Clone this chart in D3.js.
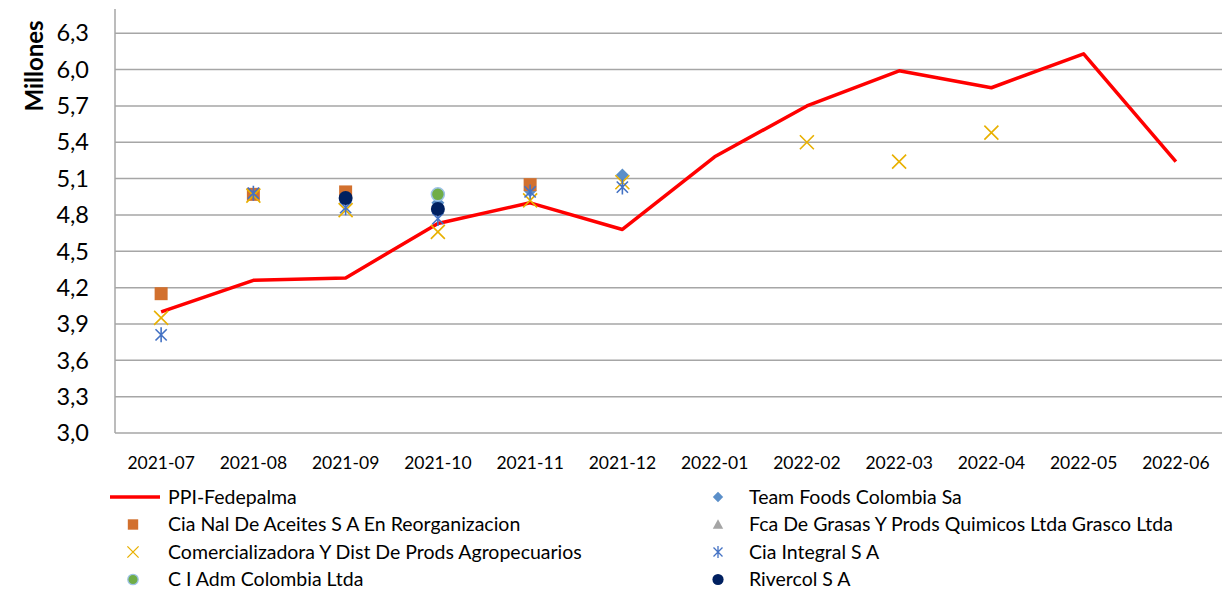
<!DOCTYPE html>
<html lang="es">
<head>
  <meta charset="UTF-8">
  <title>PPI-Fedepalma vs compradores</title>
  <script src="https://d3js.org/d3.v7.min.js"></script>
  <style>
    body {
      margin: 0;
      background: white;
      font-family: Lato, "Open Sans", sans-serif;
    }
    svg {
      display: block;
    }
    .grid line {
      stroke: #a6a6a6;
      stroke-width: 1.5;
    }
    .ytick text {
      font-size: 23.5px;
      fill: #000;
    }
    .xtick text {
      font-size: 17.5px;
      fill: #000;
    }
    .legend text {
      font-size: 19.5px;
      fill: #000;
    }
  </style>
</head>
<body>
<svg width="1229" height="590"></svg>

<script>
  const months = ["2021-07", "2021-08", "2021-09", "2021-10", "2021-11", "2021-12",
                  "2022-01", "2022-02", "2022-03", "2022-04", "2022-05", "2022-06"];
  const yTicks = [3.0, 3.3, 3.6, 3.9, 4.2, 4.5, 4.8, 5.1, 5.4, 5.7, 6.0, 6.3];

  // millions of pesos, null where there is no quote
  const ppiFedepalma = [4.00, 4.26, 4.28, 4.73, 4.90, 4.68, 5.28, 5.70, 5.99, 5.85, 6.13, 5.24];
  const teamFoods = [null, null, null, 4.90, 5.00, 5.13, null, null, null, null, null, null];
  const ciaNal = [4.15, 4.97, 4.99, null, 5.05, null, null, null, null, null, null, null];
  const grasco = [null, null, null, null, null, null, null, null, null, null, null, null];
  const comercializadora = [3.95, 4.96, 4.84, 4.66, 4.92, 5.07, null, 5.40, 5.24, 5.48, null, null];
  const ciaIntegral = [3.81, 4.98, 4.86, 4.77, 4.99, 5.03, null, null, null, null, null, null];
  const ciAdm = [null, null, null, 4.97, null, null, null, null, null, null, null, null];
  const rivercol = [null, null, 4.94, 4.85, null, null, null, null, null, null, null, null];

  const svg = d3.select("svg");
  const margin = {left: 115, right: 7, top: 9, bottom: 157};
  const W = 1229, H = 590;

  const x = d3.scaleBand()
    .domain(months)
    .range([margin.left, W - margin.right]);

  const y = d3.scaleLinear()
    .domain([3.0, 6.5])
    .range([H - margin.bottom, margin.top]);

  // gridlines
  svg.append("g")
    .attr("class", "grid")
    .selectAll("line")
    .data(yTicks)
    .join("line")
    .attr("x1", margin.left)
    .attr("x2", W - margin.right)
    .attr("y1", d => y(d))
    .attr("y2", d => y(d));

  // y axis line
  svg.append("line")
    .attr("x1", margin.left).attr("x2", margin.left)
    .attr("y1", y(6.5)).attr("y2", y(3.0))
    .attr("stroke", "#a6a6a6")
    .attr("stroke-width", 1.5);

  // y tick labels
  svg.append("g")
    .attr("class", "ytick")
    .selectAll("text")
    .data(yTicks)
    .join("text")
    .attr("x", 89)
    .attr("y", d => y(d))
    .attr("dy", "0.35em")
    .attr("text-anchor", "end")
    .text(d => d.toFixed(1).replace(".", ","));

  svg.append("text")
    .attr("transform", "translate(43, 66) rotate(-90)")
    .attr("text-anchor", "middle")
    .style("font-size", "24px")
    .style("font-weight", "bold")
    .text("Millones");

  // x tick labels
  svg.append("g")
    .attr("class", "xtick")
    .selectAll("text")
    .data(months)
    .join("text")
    .attr("x", d => x(d) + x.bandwidth() / 2)
    .attr("y", 469)
    .attr("text-anchor", "middle")
    .text(d => d);

  // marker shapes
  const shapes = {
    square: s => `M${-s},${-s}h${2 * s}v${2 * s}h${-2 * s}Z`,
    diamond: s => `M0,${-s}L${s},0L0,${s}L${-s},0Z`,
    triangle: s => `M0,${-s}L${s},${s * 0.8}L${-s},${s * 0.8}Z`,
    cross: s => `M${-s},${-s}L${s},${s}M${s},${-s}L${-s},${s}`,
    star: s => `M0,${-s}V${s}M${-s * 0.75},${-s * 0.75}L${s * 0.75},${s * 0.75}M${s * 0.75},${-s * 0.75}L${-s * 0.75},${s * 0.75}`,
    circle: s => `M${s},0A${s},${s} 0 1,1 ${-s},0A${s},${s} 0 1,1 ${s},0Z`
  };

  const seriesList = [
    {name: "Team Foods Colombia Sa", values: teamFoods, shape: "diamond", size: 6.5, fill: "#5b8fc9", stroke: "none"},
    {name: "Cia Nal De Aceites S A En Reorganizacion", values: ciaNal, shape: "square", size: 6.5, fill: "#d2702e", stroke: "none"},
    {name: "Fca De Grasas Y Prods Quimicos Ltda Grasco Ltda", values: grasco, shape: "triangle", size: 6.5, fill: "#a5a5a5", stroke: "none"},
    {name: "Comercializadora Y Dist De Prods Agropecuarios", values: comercializadora, shape: "cross", size: 7, fill: "none", stroke: "#e8b000"},
    {name: "Cia Integral S A", values: ciaIntegral, shape: "star", size: 7.5, fill: "none", stroke: "#4472c4"},
    {name: "C I Adm Colombia Ltda", values: ciAdm, shape: "circle", size: 6.5, fill: "#70ad47", stroke: "#9dc3e6"},
    {name: "Rivercol S A", values: rivercol, shape: "circle", size: 7, fill: "#002060", stroke: "none"}
  ];

  // PPI line
  const line = d3.line()
    .x((d, i) => x(months[i]) + x.bandwidth() / 2)
    .y(d => y(d));

  svg.append("path")
    .datum(ppiFedepalma)
    .attr("d", line)
    .attr("fill", "none")
    .attr("stroke", "#ff0000")
    .attr("stroke-width", 3.5)
    .attr("stroke-linejoin", "round");

  // markers
  seriesList.forEach(s => {
    const pts = s.values
      .map((v, i) => ({v, m: months[i]}))
      .filter(d => d.v !== null);
    svg.append("g")
      .selectAll("path")
      .data(pts)
      .join("path")
      .attr("transform", d => `translate(${x(d.m) + x.bandwidth() / 2},${y(d.v)})`)
      .attr("d", shapes[s.shape](s.size))
      .attr("fill", s.fill)
      .attr("stroke", s.stroke)
      .attr("stroke-width", s.shape === "circle" ? 1.5 : 1.6);
  });

  // legend, two columns
  const legendItems = [
    {name: "PPI-Fedepalma", line: true},
    seriesList[0], seriesList[1], seriesList[2], seriesList[3],
    seriesList[4], seriesList[5], seriesList[6]
  ];

  const legend = svg.append("g").attr("class", "legend");
  legendItems.forEach((item, i) => {
    const col = i % 2, row = Math.floor(i / 2);
    const gx = col === 0 ? 133 : 718;
    const gy = 497 + row * 27.5;
    const g = legend.append("g").attr("transform", `translate(${gx},${gy})`);
    if (item.line) {
      g.append("line")
        .attr("x1", -23).attr("x2", 27)
        .attr("stroke", "#ff0000")
        .attr("stroke-width", 3.5);
    } else {
      g.append("path")
        .attr("d", shapes[item.shape](item.size * 0.8))
        .attr("fill", item.fill)
        .attr("stroke", item.stroke)
        .attr("stroke-width", 1.3);
    }
    g.append("text")
      .attr("x", col === 0 ? 35 : 31)
      .attr("dy", "0.35em")
      .text(item.name);
  });
</script>

</body>
</html>
